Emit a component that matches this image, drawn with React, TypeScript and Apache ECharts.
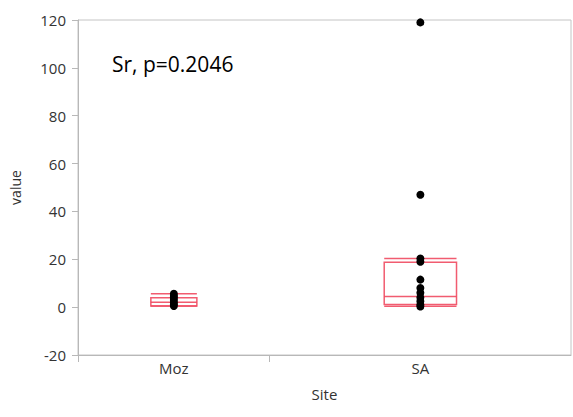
import React, { useEffect, useRef } from "react";
import * as echarts from "echarts";

// Sites and their sample sizes (category widths are proportional to n)
const sites = ["Moz", "SA"];
const siteCounts = [7, 11];

// Individual observations per site
const mozValues = [5.6, 4.7, 3.9, 3.0, 2.0, 1.2, 0.5];
const saValues = [119, 47, 20.3, 19, 11.5, 8, 6, 4, 2.5, 1, 0.3];

// Box statistics: [lowCap, q1, median, q3, highCap]
const mozBox = [0.5, 0.5, 2.0, 3.9, 5.6];
const saBox = [0.4, 1.1, 4.5, 18.8, 20.3];

// Y axis ticks
const yMin = -20;
const yMax = 120;
const yStep = 20;

const annotation = "Sr, p=0.2046";

export default function App() {
  const ref = useRef<HTMLDivElement>(null);

  useEffect(() => {
    if (!ref.current) return;
    document.body.style.margin = "0";
    const chart = echarts.init(ref.current, null, { renderer: "svg" });

    const total = siteCounts.reduce((a, b) => a + b, 0);
    const centers: number[] = [];
    const bounds: number[] = [];
    let acc = 0;
    siteCounts.forEach((n, i) => {
      centers.push(acc + n / 2);
      acc += n;
      if (i < siteCounts.length - 1) bounds.push(acc);
    });

    const boxes = [mozBox, saBox];
    const boxData = boxes.map((b, i) => [centers[i], siteCounts[i] * 0.12, ...b]);
    const pointData = [
      ...mozValues.map((v) => [centers[0], v]),
      ...saValues.map((v) => [centers[1], v]),
    ];

    const red = "#ef4a60";
    const gray = "#b8b8b8";
    const font = "Open Sans";

    chart.setOption({
      animation: false,
      grid: {
        left: 74,
        right: 2,
        top: 20,
        bottom: 62,
        show: true,
        borderColor: "#c4c4c4",
        borderWidth: 1,
      },
      xAxis: {
        type: "value",
        min: 0,
        max: total,
        name: "Site",
        nameLocation: "middle",
        nameGap: 31,
        nameTextStyle: { color: "#333", fontSize: 15, fontFamily: font },
        splitLine: { show: false },
        axisLine: { show: true, onZero: false, lineStyle: { color: gray } },
        axisTick: {
          show: true,
          customValues: [0, ...bounds],
          length: 7,
          lineStyle: { color: gray },
        },
        axisLabel: {
          customValues: centers,
          formatter: (v: number) => {
            const idx = centers.findIndex((c) => Math.abs(c - v) < 1e-6);
            return idx >= 0 ? sites[idx] : "";
          },
          color: "#333",
          fontSize: 15,
          fontFamily: font,
          margin: 5,
        },
      },
      yAxis: {
        type: "value",
        min: yMin,
        max: yMax,
        interval: yStep,
        name: "value",
        nameLocation: "middle",
        nameGap: 56,
        nameTextStyle: { color: "#333", fontSize: 14, fontFamily: font },
        splitLine: { show: false },
        axisLine: { show: true, onZero: false, lineStyle: { color: gray } },
        axisTick: { show: true, length: 6, lineStyle: { color: gray } },
        axisLabel: {
          color: "#333",
          fontSize: 15,
          fontFamily: font,
          margin: 12,
        },
      },
      graphic: [
        {
          type: "text",
          left: 112,
          top: 53,
          style: {
            text: annotation,
            fill: "#000",
            fontSize: 21,
            fontFamily: font,
          },
        },
      ],
      series: [
        {
          type: "custom",
          data: boxData,
          renderItem: (params: any, api: any) => {
            const cx = api.value(0);
            const hw = api.value(1);
            const lo = api.value(2);
            const q1 = api.value(3);
            const med = api.value(4);
            const q3 = api.value(5);
            const hi = api.value(6);
            const pL = api.coord([cx - hw, q3]);
            const pR = api.coord([cx + hw, q1]);
            const x1 = pL[0];
            const x2 = pR[0];
            const line = (v: number) => {
              const y = api.coord([cx, v])[1];
              return {
                type: "line",
                shape: { x1, y1: y, x2, y2: y },
                style: { stroke: red, lineWidth: 1.5, opacity: 0.9 },
              };
            };
            return {
              type: "group",
              children: [
                {
                  type: "rect",
                  shape: { x: x1, y: pL[1], width: x2 - x1, height: pR[1] - pL[1] },
                  style: { fill: "none", stroke: red, lineWidth: 1.5, opacity: 0.9 },
                },
                line(med),
                line(lo),
                line(hi),
              ],
            };
          },
          z: 2,
        },
        {
          type: "scatter",
          data: pointData,
          symbol: "circle",
          symbolSize: 8,
          itemStyle: { color: "#000", opacity: 1 },
          z: 3,
        },
      ],
    });

    return () => chart.dispose();
  }, []);

  return <div ref={ref} style={{ width: 573, height: 417 }} />;
}
